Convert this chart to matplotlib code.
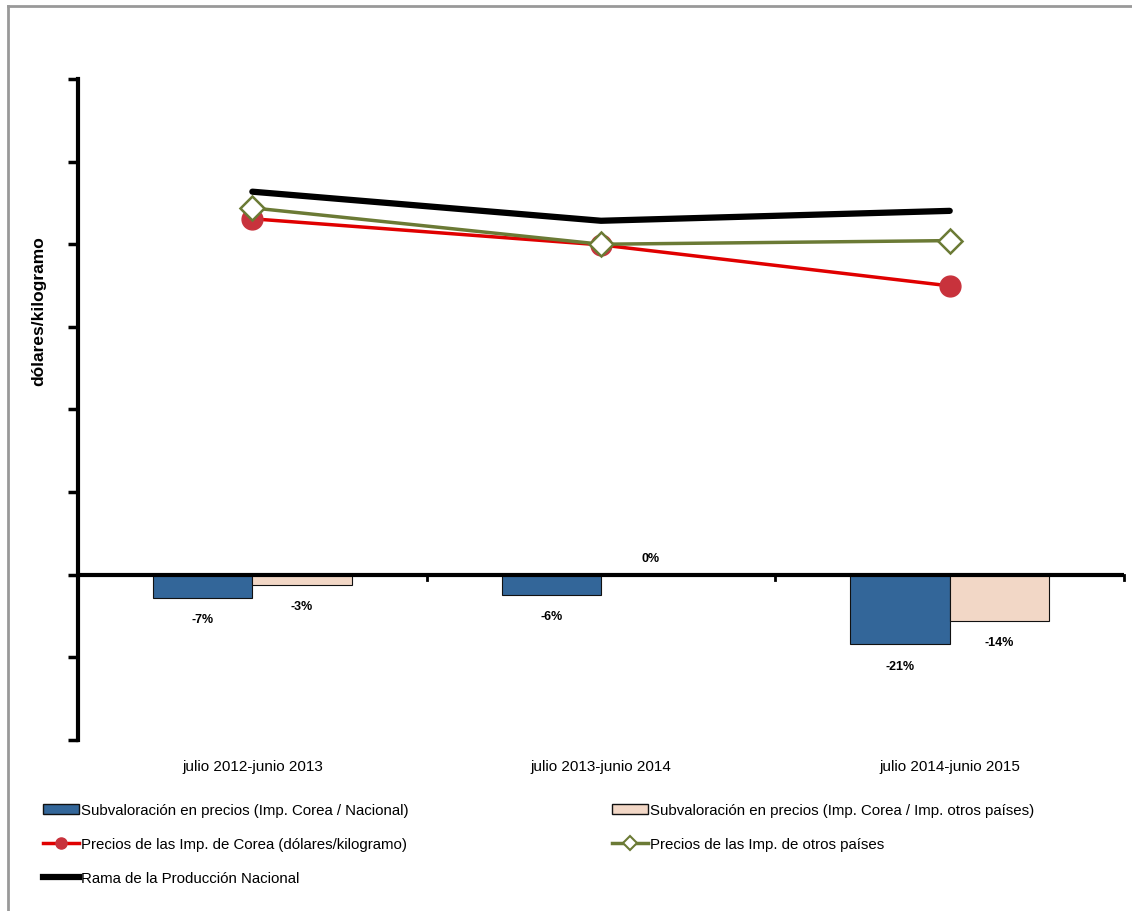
import numpy as np
import matplotlib.pyplot as plt
from matplotlib.lines import Line2D
from matplotlib.patches import Patch

plt.rcParams['font.family'] = ['Liberation Sans', 'DejaVu Sans']

# Datos
periodos = ['julio 2012-junio 2013', 'julio 2013-junio 2014', 'julio 2014-junio 2015']
subv_nacional = [-0.07, -0.06, -0.21]
subv_otros = [-0.03, 0.0, -0.14]
etiq_nacional = ['-7%', '-6%', '-21%']
etiq_otros = ['-3%', '0%', '-14%']
precio_corea = [1.077, 0.998, 0.874]
precio_otros = [1.110, 1.000, 1.011]
rama_nacional = [1.159, 1.071, 1.101]

azul = '#336699'
rosa = '#F2D7C6'
rojo = '#E00000'
verde = '#6B7A35'

fig = plt.figure(figsize=(11.32, 9.12), dpi=100)
ax = fig.add_axes([0.0689, 0.1875, 0.9241, 0.7248])

x = np.arange(len(periodos))
ancho = 0.285

ax.bar(x - ancho / 2, subv_nacional, ancho, color=azul, edgecolor='#111111', linewidth=0.8)
ax.bar(x + ancho / 2, subv_otros, ancho, color=rosa, edgecolor='#111111', linewidth=0.8)

# Etiquetas de las barras
for xi, v, t in zip(x - ancho / 2, subv_nacional, etiq_nacional):
    ax.text(xi, v - 0.065, t, ha='center', va='center', fontsize=9, fontweight='bold')
for xi, v, t in zip(x + ancho / 2, subv_otros, etiq_otros):
    off = 0.05 if v == 0 else -0.065
    ax.text(xi, v + off, t, ha='center', va='center', fontsize=9, fontweight='bold')

ax.plot(x, rama_nacional, color='black', lw=4.5, solid_capstyle='round', zorder=3)
ax.plot(x, precio_otros, color=verde, lw=2.5, zorder=4)
ax.plot(x, precio_corea, color=rojo, lw=2.5, marker='o', ms=15, mfc='#C8323C',
        mec='#C8323C', zorder=3.5)
# diamante de otros países por encima
ax.plot(x, precio_otros, color=verde, lw=0, marker='D', ms=12, mfc='white',
        mec=verde, mew=1.8, zorder=5)

ax.set_xlim(-0.5, 2.5)
ax.set_ylim(-0.5, 1.5)
ax.set_yticks(np.arange(-0.5, 1.51, 0.25))
ax.set_yticklabels([])
ax.tick_params(axis='y', direction='out', length=7, width=2.5)

ax.set_xticks(x)
ax.set_xticklabels(periodos, fontsize=11)
ax.tick_params(axis='x', length=0, pad=14)
for xb in [0.5, 1.5, 2.5]:
    ax.plot([xb, xb], [0, -0.015], color='black', lw=2, clip_on=False)

ax.spines['top'].set_visible(False)
ax.spines['right'].set_visible(False)
ax.spines['bottom'].set_visible(False)
ax.spines['left'].set_linewidth(3)
ax.axhline(0, color='black', lw=3, zorder=6)

ax.set_ylabel('dólares/kilogramo', fontsize=12.5, fontweight='bold')
ax.yaxis.set_label_coords(-0.03, 0.65)

# Leyenda
h = [Patch(facecolor=azul, edgecolor='#111111'),
     Patch(facecolor=rosa, edgecolor='#111111'),
     Line2D([], [], color=rojo, lw=2.5, marker='o', ms=8, mfc='#C8323C', mec='#C8323C'),
     Line2D([], [], color=verde, lw=2.5, marker='D', ms=7, mfc='white', mec=verde, mew=1.5),
     Line2D([], [], color='black', lw=4.5)]
labels = ['Subvaloración en precios (Imp. Corea / Nacional)',
          'Subvaloración en precios (Imp. Corea / Imp. otros países)',
          'Precios de las Imp. de Corea (dólares/kilogramo)',
          'Precios de las Imp. de otros países',
          'Rama de la Producción Nacional']
order = [0, 2, 4, 1, 3]
fig.legend([h[i] for i in order], [labels[i] for i in order], ncol=2,
           loc='upper left', bbox_to_anchor=(0.033, 0.125), frameon=False,
           fontsize=10.8, handlelength=2.4, handletextpad=0.1, columnspacing=13.6,
           labelspacing=1.35, borderaxespad=0)

# marco
fig.add_artist(Line2D([0.007, 0.007], [0, 0.9925], color='#999999', lw=2))
fig.add_artist(Line2D([0.007, 1], [0.9925, 0.9925], color='#999999', lw=2))

fig.savefig('out.png', dpi=100)
